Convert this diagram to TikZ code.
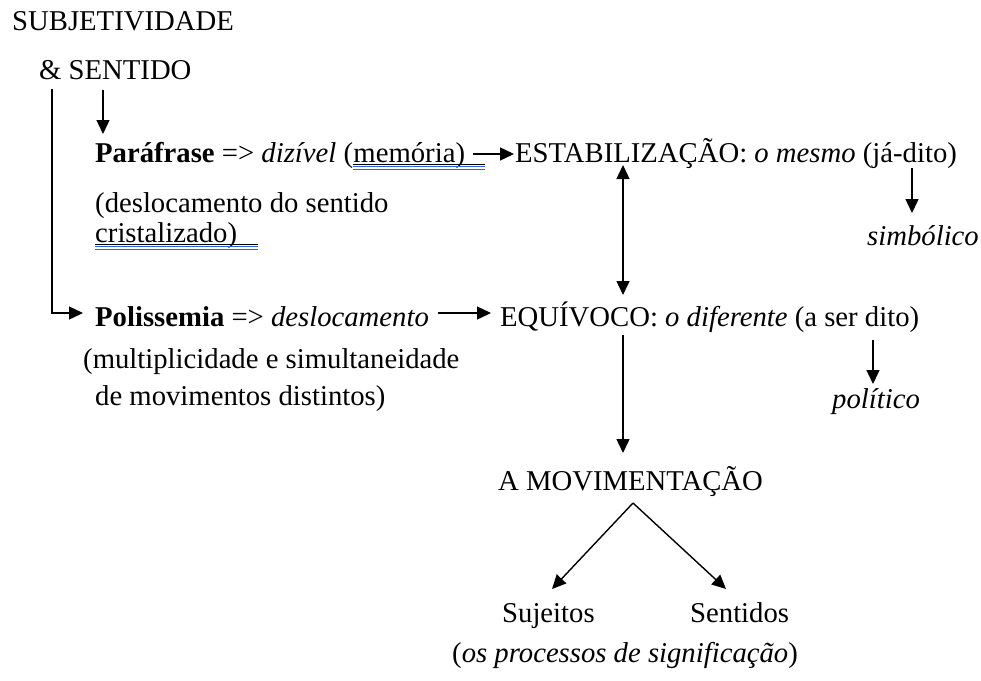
\documentclass[tikz,border=0pt]{standalone}
\usepackage{fontspec}
\setmainfont{Liberation Serif}
\usetikzlibrary{arrows.meta,calc}
\definecolor{spellblue}{RGB}{40,95,235}
\begin{document}
\begin{tikzpicture}[x=1pt,y=-1pt,
  txt/.style={anchor=base west,inner sep=0pt,font=\fontsize{28.7}{34}\selectfont},
  arr/.style={line width=1.4pt,-{Triangle[length=14pt,width=13pt]}},
  darr/.style={line width=1.4pt,{Triangle[length=14pt,width=13pt]}-{Triangle[length=14pt,width=13pt]}},
  ul/.style={line width=0.8pt},
  blueul/.style={line width=1pt,spellblue}]
\useasboundingbox (0,0) rectangle (981,680);
% texts
\node[txt] (subj) at (12,30) {SUBJETIVIDADE};
\node[txt] (sent) at (39,79) {\& SENTIDO};
\node[txt] (para) at (95,162) {\textbf{Paráfrase} => \textit{dizível} (};
\node[txt] (mem) at (para.base east) {memória)};
\node[txt] (desl1) at (95,212) {(deslocamento do sentido};
\node[txt] (crist) at (95,242) {cristalizado)};
\node[txt] (estab) at (515,162) {ESTABILIZAÇÃO: \textit{o mesmo} (já-dito)};
\node[txt] (simb) at (867,245) {\textit{simbólico}};
\node[txt] (poli) at (95,326) {\textbf{Polissemia} => \textit{deslocamento}};
\node[txt] (equi) at (500,326) {EQUÍVOCO: \textit{o diferente} (a ser dito)};
\node[txt] (mult1) at (83,368) {(multiplicidade e simultaneidade};
\node[txt] (mult2) at (95,405) {de movimentos distintos)};
\node[txt] (polit) at (832,408) {\textit{político}};
\node[txt] (movi) at (498,490) {A MOVIMENTAÇÃO};
\node[txt] (suj) at (502,622) {Sujeitos};
\node[txt] (sen) at (690,622) {Sentidos};
\node[txt] (proc) at (452,662) {(\textit{os processos de significação})};
% underlines
\coordinate (memend) at (485,0);
\draw[ul] ([yshift=-2.5pt]mem.base west) -- ([yshift=-2.5pt]mem.base west -| memend);
\draw[blueul] ([yshift=-4.5pt]mem.base west) -- ([yshift=-4.5pt]mem.base west -| memend);
\draw[blueul] ([yshift=-7pt]mem.base west) -- ([yshift=-7pt]mem.base west -| memend);
\coordinate (cristend) at (258,0);
\draw[ul] ([yshift=-2.5pt]crist.base west) -- ([yshift=-2.5pt]crist.base west -| cristend);
\draw[blueul] ([yshift=-4.5pt]crist.base west) -- ([yshift=-4.5pt]crist.base west -| cristend);
\draw[blueul] ([yshift=-7pt]crist.base west) -- ([yshift=-7pt]crist.base west -| cristend);
% connector end points
\coordinate (s1) at (103,90);
\coordinate (p1) at (103,134);
\coordinate (s2) at (52,89);
\coordinate (c2) at (52,313);
\coordinate (p2) at (83,313);
\coordinate (m1) at (473,154);
\coordinate (e1) at (514,154);
\coordinate (e2) at (623,165);
\coordinate (q2) at (623,295);
\coordinate (j1) at (912,168);
\coordinate (j2) at (912,213);
\coordinate (d1) at (438,313);
\coordinate (q1) at (491,313);
\coordinate (q3) at (623,335);
\coordinate (v1) at (623,453);
\coordinate (a1) at (873,340);
\coordinate (a2) at (873,384);
\coordinate (apex) at (633,503);
\coordinate (sj) at (552,589);
\coordinate (st) at (726,589);
% connectors
\draw[arr] (s1) -- (p1);
\draw[arr] (s2) -- (c2) -- (p2);
\draw[arr] (m1) -- (e1);
\draw[darr] (e2) -- (q2);
\draw[arr] (j1) -- (j2);
\draw[arr] (d1) -- (q1);
\draw[arr] (q3) -- (v1);
\draw[arr] (a1) -- (a2);
\draw[arr] (apex) -- (sj);
\draw[arr] (apex) -- (st);
\end{tikzpicture}
\end{document}
